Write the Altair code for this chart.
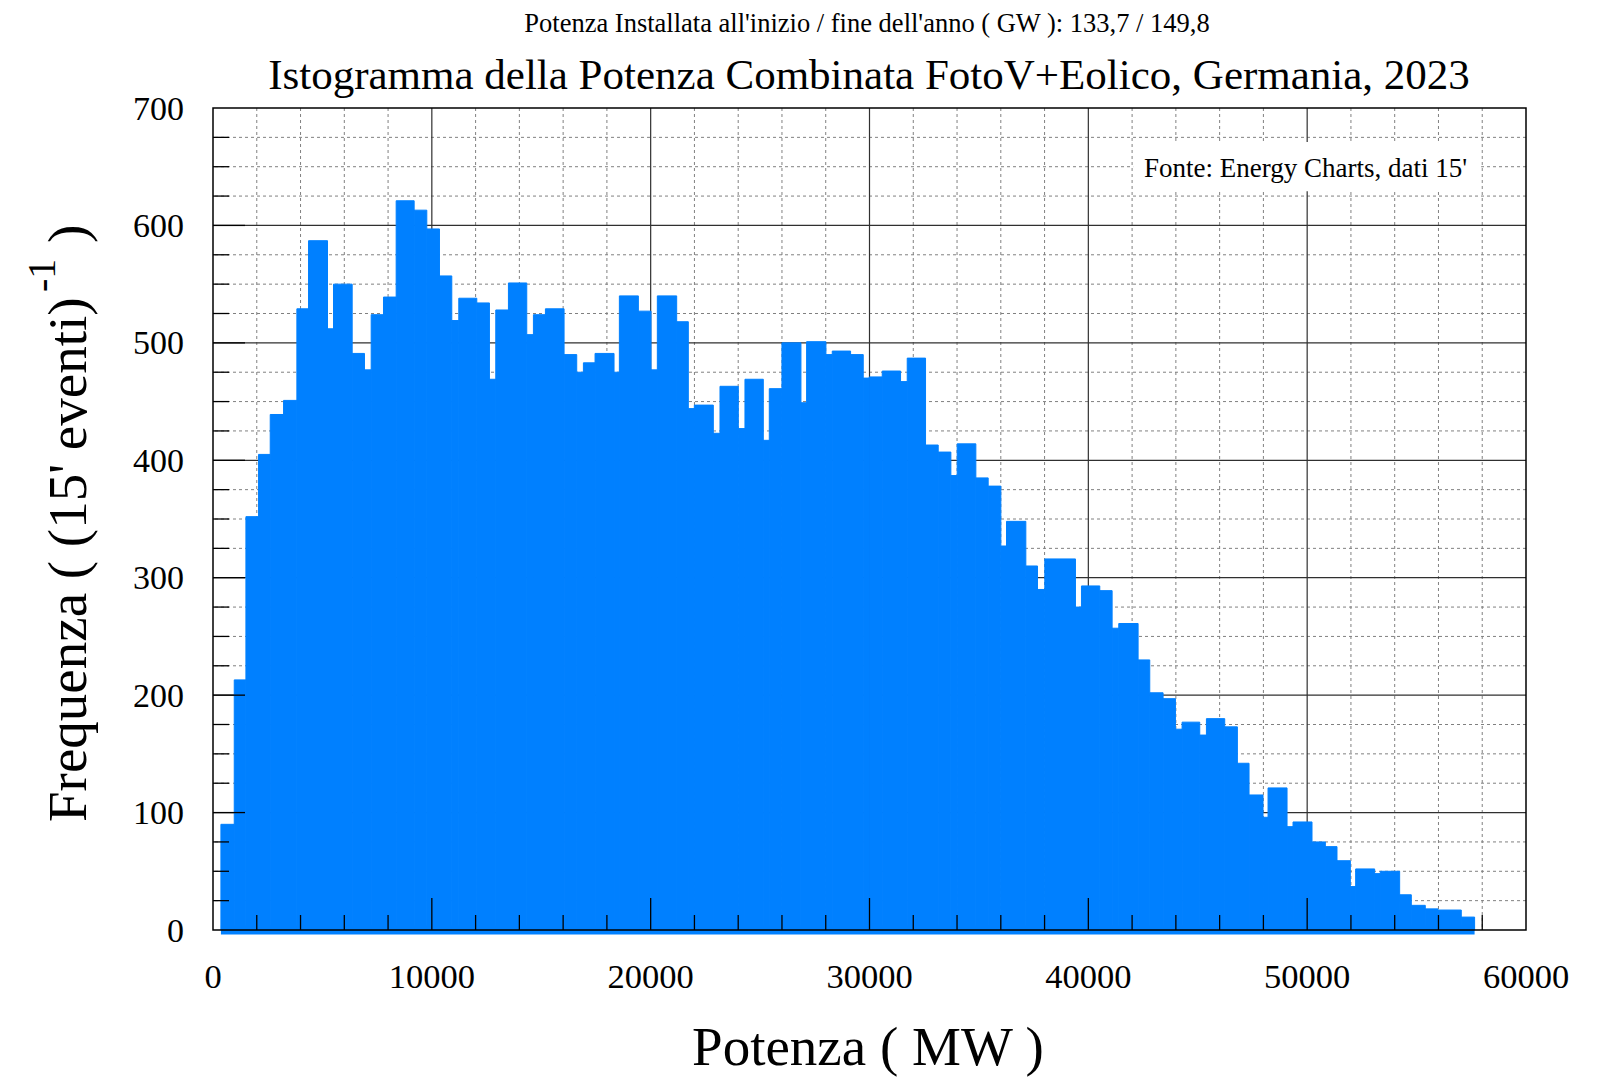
import altair as alt
import pandas as pd

# ---- data ----
edges_mw = [362, 971, 1504, 2082, 2615, 3224, 3833, 4366, 5233, 5507,
            6360, 6923, 7228, 7791, 8370, 9192, 9770, 10349, 10912, 11232,
            12054, 12632, 12922, 13500, 14338, 14642, 15190, 16043, 16621, 16926,
            17459, 18326, 18570, 19438, 20016, 20305, 21189, 21721, 21995, 22863,
            23168, 24005, 24309, 25147, 25421, 25999, 26867, 27126, 28009, 28298,
            29136, 29714, 29988, 30582, 31419, 31724, 32561, 33140, 33718, 34007,
            34860, 35423, 36002, 36261, 37144, 37677, 38011, 39412, 39686, 40523,
            41087, 41391, 42274, 42807, 43416, 43980, 44284, 45091, 45396, 46233,
            46811, 47344, 47983, 48212, 49080, 49354, 50221, 50831, 51363, 51973,
            52216, 53084, 53343, 54226, 54759, 55398, 55976, 57042, 57651]

freq = [90, 213, 352, 405, 439, 451, 529, 587, 512, 550,
        491, 477, 524, 539, 621, 613, 597, 557, 519, 538,
        534, 469, 528, 551, 507, 524, 529, 490, 475, 483,
        491, 475, 540, 527, 477, 540, 518, 444, 447, 423,
        463, 427, 469, 417, 461, 500, 449, 501, 490, 493,
        490, 470, 471, 476, 467, 487, 413, 407, 387, 414,
        385, 378, 327, 348, 310, 290, 316, 275, 293, 289,
        257, 261, 230, 202, 197, 171, 177, 166, 180, 173,
        142, 115, 96, 121, 88, 92, 75, 71, 59, 37,
        52, 48, 50, 30, 21, 18, 17, 11]

x_labels = [0, 10000, 20000, 30000, 40000, 50000, 60000]
y_labels = [0, 100, 200, 300, 400, 500, 600, 700]
x_major_grid = [10000, 20000, 30000, 40000, 50000]
y_major_grid = [100, 200, 300, 400, 500, 600]
x_minor = [v for v in range(0, 60001, 2000) if v % 10000 != 0]
y_minor = [v for v in range(0, 701, 25) if v % 100 != 0]
x_major_ticks = [10000, 20000, 30000, 40000, 50000]
y_major_ticks = [100, 200, 300, 400, 500, 600]

title_txt = "Istogramma della Potenza Combinata FotoV+Eolico, Germania, 2023"
subtitle_txt = "Potenza Installata all'inizio / fine dell'anno ( GW ): 133,7 / 149,8"
source_txt = "Fonte: Energy Charts, dati 15'"
xtitle_txt = "Potenza ( MW )"
ytitle_main = "Frequenza ( (15' eventi)"
ytitle_sup = "-1"
ytitle_end = ")"

# ---- style ----
W, H = 1313, 822
BLUE = "#0080ff"
FONT = "Liberation Serif"

xs = alt.Scale(domain=[0, 60000], nice=False, zero=False)
ys = alt.Scale(domain=[0, 700], nice=False, zero=False)

bars_df = pd.DataFrame({"x0": edges_mw[:-1], "x1": edges_mw[1:], "f": freq})

minor_x = alt.Chart(pd.DataFrame({"v": x_minor})).mark_rule(
    color="#808080", strokeDash=[3, 3], strokeWidth=1
).encode(x=alt.X("v:Q", scale=xs, axis=None))

minor_y = alt.Chart(pd.DataFrame({"v": y_minor})).mark_rule(
    color="#808080", strokeDash=[3, 3], strokeWidth=1
).encode(y=alt.Y("v:Q", scale=ys, axis=None))

major_x = alt.Chart(pd.DataFrame({"v": x_major_grid})).mark_rule(
    color="#303030", strokeWidth=1.2
).encode(x=alt.X("v:Q", scale=xs, axis=None))

major_y = alt.Chart(pd.DataFrame({"v": y_major_grid})).mark_rule(
    color="#303030", strokeWidth=1.2
).encode(y=alt.Y("v:Q", scale=ys, axis=None))

box = alt.Chart(pd.DataFrame({"a": [42050], "b": [57950], "c": [629], "d": [671]})).mark_rect(
    color="white"
).encode(
    x=alt.X("a:Q", scale=xs, axis=None), x2="b:Q",
    y=alt.Y("c:Q", scale=ys, axis=None), y2="d:Q",
)

bars = alt.Chart(bars_df).mark_rect(fill=BLUE, stroke=BLUE, strokeWidth=1).encode(
    x=alt.X("x0:Q", scale=xs, axis=None),
    x2="x1:Q",
    y=alt.Y("f:Q", scale=ys, axis=None),
    y2=alt.datum(0),
)

base_line = alt.Chart(pd.DataFrame({"a": [edges_mw[0]], "b": [edges_mw[-1]], "y": [0]})).mark_rule(
    color=BLUE, strokeWidth=9
).encode(x=alt.X("a:Q", scale=xs, axis=None), x2="b:Q", y=alt.Y("y:Q", scale=ys, axis=None))

tick_x_minor = alt.Chart(pd.DataFrame({"v": x_minor})).mark_rule(color="black", strokeWidth=1.3).encode(
    x=alt.X("v:Q", scale=xs, axis=None), y=alt.value(H), y2=alt.value(H - 15))
tick_x_major = alt.Chart(pd.DataFrame({"v": x_major_ticks})).mark_rule(color="black", strokeWidth=1.3).encode(
    x=alt.X("v:Q", scale=xs, axis=None), y=alt.value(H), y2=alt.value(H - 32))
tick_y_minor = alt.Chart(pd.DataFrame({"v": y_minor})).mark_rule(color="black", strokeWidth=1.3).encode(
    y=alt.Y("v:Q", scale=ys, axis=None), x=alt.value(0), x2=alt.value(16))
tick_y_major = alt.Chart(pd.DataFrame({"v": y_major_ticks})).mark_rule(color="black", strokeWidth=1.3).encode(
    y=alt.Y("v:Q", scale=ys, axis=None), x=alt.value(0), x2=alt.value(32))

frame = alt.Chart(pd.DataFrame({"a": [0]})).mark_rect(
    fill="white", fillOpacity=0, stroke="black", strokeWidth=1.5
).encode(x=alt.value(0), x2=alt.value(W), y=alt.value(0), y2=alt.value(H))

# tick labels (drawn through the scales)
xlab = alt.Chart(pd.DataFrame({"v": x_labels, "t": [str(v) for v in x_labels]})).mark_text(
    font=FONT, fontSize=34.5, color="black", align="center", baseline="alphabetic"
).encode(x=alt.X("v:Q", scale=xs, axis=None), y=alt.value(H + 58), text="t:N")

ylab = alt.Chart(pd.DataFrame({"v": y_labels, "t": [str(v) for v in y_labels]})).mark_text(
    font=FONT, fontSize=34, color="black", align="right", baseline="alphabetic", dy=11.5
).encode(y=alt.Y("v:Q", scale=ys, axis=None), x=alt.value(-29), text="t:N")


def label(txt, x, y, size, align="center", angle=0):
    return alt.Chart(pd.DataFrame({"t": [txt]})).mark_text(
        font=FONT, fontSize=size, color="black", align=align,
        baseline="alphabetic", angle=angle
    ).encode(text="t:N", x=alt.value(x), y=alt.value(y))


texts = [
    label(subtitle_txt, 654, -76, 26.5),
    label(title_txt, 656, -19, 43),
    label(source_txt, 1254, 69, 27, align="right"),
    label(xtitle_txt, 655, 957, 55),
    label(ytitle_main, -127, 714, 55, align="left", angle=270),
    label(ytitle_sup, -158, 184, 40, align="left", angle=270),
    label(ytitle_end, -127, 135, 55, align="left", angle=270),
]

chart = alt.layer(
    minor_x, minor_y, major_x, major_y, box, bars, base_line,
    tick_x_minor, tick_x_major, tick_y_minor, tick_y_major, frame,
    xlab, ylab, *texts
).properties(
    width=W, height=H,
    padding={"left": 205, "top": 100, "right": 60, "bottom": 160},
    autosize=alt.AutoSizeParams(type="none"),
    background="white",
).configure_view(stroke=None)

chart.save("out.html", embed_options={"renderer": "svg", "actions": False})
